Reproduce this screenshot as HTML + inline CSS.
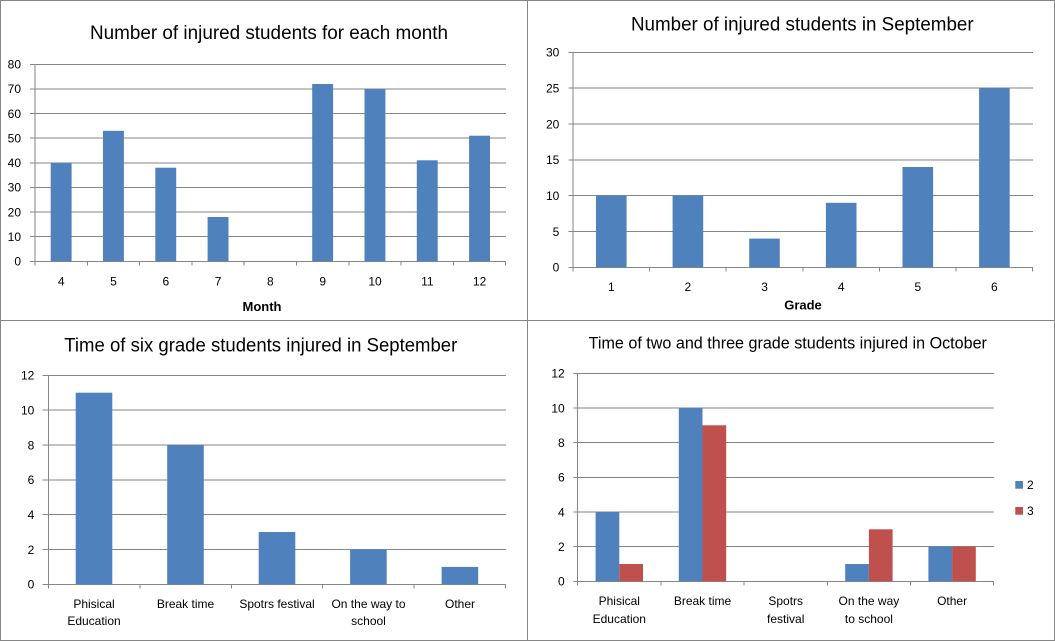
<!DOCTYPE html>
<html><head><meta charset="utf-8"><style>
html,body{margin:0;padding:0;background:#fff;}
svg{display:block;}
text{font-family:"Liberation Sans",Arial,sans-serif;fill:#000;}
</style></head><body>
<svg width="1055" height="641" viewBox="0 0 1055 641" xmlns="http://www.w3.org/2000/svg">
<rect x="0" y="0" width="1055" height="641" fill="#fff"/>
<g stroke="#868686" stroke-width="1" fill="none" shape-rendering="crispEdges">
<rect x="0.5" y="0.5" width="1053.8" height="639.8"/>
<line x1="527.5" y1="0" x2="527.5" y2="641"/>
<line x1="0" y1="320.5" x2="1055" y2="320.5"/>
</g>

<!-- Chart 1 -->
<text x="269" y="39" font-size="19" text-anchor="middle" textLength="358" lengthAdjust="spacingAndGlyphs">Number of injured students for each month</text>
<g stroke="#868686" stroke-width="1" shape-rendering="crispEdges">
<line x1="30" y1="261.3" x2="506" y2="261.3"/>
<line x1="30" y1="236.7" x2="506" y2="236.7"/>
<line x1="30" y1="212.1" x2="506" y2="212.1"/>
<line x1="30" y1="187.4" x2="506" y2="187.4"/>
<line x1="30" y1="162.8" x2="506" y2="162.8"/>
<line x1="30" y1="138.2" x2="506" y2="138.2"/>
<line x1="30" y1="113.6" x2="506" y2="113.6"/>
<line x1="30" y1="88.9" x2="506" y2="88.9"/>
<line x1="30" y1="64.3" x2="506" y2="64.3"/>
<line x1="35" y1="64.3" x2="35" y2="265.5"/>
<line x1="87.3" y1="261.3" x2="87.3" y2="265.5"/>
<line x1="139.6" y1="261.3" x2="139.6" y2="265.5"/>
<line x1="191.9" y1="261.3" x2="191.9" y2="265.5"/>
<line x1="244.2" y1="261.3" x2="244.2" y2="265.5"/>
<line x1="296.5" y1="261.3" x2="296.5" y2="265.5"/>
<line x1="348.8" y1="261.3" x2="348.8" y2="265.5"/>
<line x1="401.1" y1="261.3" x2="401.1" y2="265.5"/>
<line x1="453.4" y1="261.3" x2="453.4" y2="265.5"/>
<line x1="505.7" y1="261.3" x2="505.7" y2="265.5"/>
</g>
<g fill="#4F81BD">
<rect x="50.7" y="162.8" width="20.9" height="98.5"/>
<rect x="103" y="130.8" width="20.9" height="130.5"/>
<rect x="155.3" y="167.7" width="20.9" height="93.6"/>
<rect x="207.6" y="217" width="20.9" height="44.3"/>
<rect x="312.2" y="84" width="20.9" height="177.3"/>
<rect x="364.5" y="88.9" width="20.9" height="172.4"/>
<rect x="416.8" y="160.3" width="20.9" height="101"/>
<rect x="469.1" y="135.7" width="20.9" height="125.6"/>
</g>
<g font-size="12" text-anchor="end">
<text x="21" y="265.6">0</text>
<text x="21" y="241">10</text>
<text x="21" y="216.4">20</text>
<text x="21" y="191.7">30</text>
<text x="21" y="167.1">40</text>
<text x="21" y="142.5">50</text>
<text x="21" y="117.9">60</text>
<text x="21" y="93.2">70</text>
<text x="21" y="68.6">80</text>
</g>
<g font-size="12" text-anchor="middle">
<text x="61.2" y="285.5">4</text>
<text x="113.5" y="285.5">5</text>
<text x="165.8" y="285.5">6</text>
<text x="218.1" y="285.5">7</text>
<text x="270.4" y="285.5">8</text>
<text x="322.7" y="285.5">9</text>
<text x="375" y="285.5">10</text>
<text x="427.3" y="285.5">11</text>
<text x="479.6" y="285.5">12</text>
</g>
<text x="262" y="311" font-size="13" font-weight="bold" text-anchor="middle">Month</text>

<!-- Chart 2 -->
<text x="802.3" y="30.7" font-size="19" text-anchor="middle" textLength="342.7" lengthAdjust="spacingAndGlyphs">Number of injured students in September</text>
<g stroke="#868686" stroke-width="1" shape-rendering="crispEdges">
<line x1="568.7" y1="267.3" x2="1033" y2="267.3"/>
<line x1="568.7" y1="231.5" x2="1033" y2="231.5"/>
<line x1="568.7" y1="195.6" x2="1033" y2="195.6"/>
<line x1="568.7" y1="159.8" x2="1033" y2="159.8"/>
<line x1="568.7" y1="124" x2="1033" y2="124"/>
<line x1="568.7" y1="88.1" x2="1033" y2="88.1"/>
<line x1="568.7" y1="52.3" x2="1033" y2="52.3"/>
<line x1="573" y1="52.3" x2="573" y2="271.7"/>
<line x1="649.6" y1="267.3" x2="649.6" y2="271.7"/>
<line x1="726.2" y1="267.3" x2="726.2" y2="271.7"/>
<line x1="802.9" y1="267.3" x2="802.9" y2="271.7"/>
<line x1="879.5" y1="267.3" x2="879.5" y2="271.7"/>
<line x1="956.1" y1="267.3" x2="956.1" y2="271.7"/>
<line x1="1032.7" y1="267.3" x2="1032.7" y2="271.7"/>
</g>
<g fill="#4F81BD">
<rect x="596" y="195.6" width="30.6" height="71.7"/>
<rect x="672.6" y="195.6" width="30.6" height="71.7"/>
<rect x="749.2" y="238.6" width="30.6" height="28.7"/>
<rect x="825.9" y="202.8" width="30.6" height="64.5"/>
<rect x="902.5" y="167" width="30.6" height="100.3"/>
<rect x="979.1" y="88.1" width="30.6" height="179.2"/>
</g>
<g font-size="12" text-anchor="end">
<text x="559.3" y="271.6">0</text>
<text x="559.3" y="235.8">5</text>
<text x="559.3" y="199.9">10</text>
<text x="559.3" y="164.1">15</text>
<text x="559.3" y="128.3">20</text>
<text x="559.3" y="92.4">25</text>
<text x="559.3" y="56.6">30</text>
</g>
<g font-size="12" text-anchor="middle">
<text x="611.3" y="291">1</text>
<text x="687.9" y="291">2</text>
<text x="764.6" y="291">3</text>
<text x="841.2" y="291">4</text>
<text x="917.8" y="291">5</text>
<text x="994.4" y="291">6</text>
</g>
<text x="803" y="309.5" font-size="13" font-weight="bold" text-anchor="middle">Grade</text>

<!-- Chart 3 -->
<text x="260.8" y="351.3" font-size="19" text-anchor="middle" textLength="393" lengthAdjust="spacingAndGlyphs">Time of six grade students injured in September</text>
<g stroke="#868686" stroke-width="1" shape-rendering="crispEdges">
<line x1="42.7" y1="584.3" x2="506" y2="584.3"/>
<line x1="42.7" y1="549.5" x2="506" y2="549.5"/>
<line x1="42.7" y1="514.6" x2="506" y2="514.6"/>
<line x1="42.7" y1="479.8" x2="506" y2="479.8"/>
<line x1="42.7" y1="445" x2="506" y2="445"/>
<line x1="42.7" y1="410.1" x2="506" y2="410.1"/>
<line x1="42.7" y1="375.3" x2="506" y2="375.3"/>
<line x1="48.3" y1="375.3" x2="48.3" y2="588.7"/>
<line x1="139.8" y1="584.3" x2="139.8" y2="588.7"/>
<line x1="231.3" y1="584.3" x2="231.3" y2="588.7"/>
<line x1="322.7" y1="584.3" x2="322.7" y2="588.7"/>
<line x1="414.2" y1="584.3" x2="414.2" y2="588.7"/>
<line x1="505.7" y1="584.3" x2="505.7" y2="588.7"/>
</g>
<g fill="#4F81BD">
<rect x="75.7" y="392.7" width="36.6" height="191.6"/>
<rect x="167.2" y="445" width="36.6" height="139.3"/>
<rect x="258.7" y="532" width="36.6" height="52.3"/>
<rect x="350.1" y="549.5" width="36.6" height="34.8"/>
<rect x="441.6" y="566.9" width="36.6" height="17.4"/>
</g>
<g font-size="12" text-anchor="end">
<text x="34.3" y="588.6">0</text>
<text x="34.3" y="553.8">2</text>
<text x="34.3" y="518.9">4</text>
<text x="34.3" y="484.1">6</text>
<text x="34.3" y="449.3">8</text>
<text x="34.3" y="414.4">10</text>
<text x="34.3" y="379.6">12</text>
</g>
<g font-size="12" text-anchor="middle">
<text x="94" y="608">Phisical</text>
<text x="94" y="625">Education</text>
<text x="185.5" y="608">Break time</text>
<text x="277" y="608">Spotrs festival</text>
<text x="368.5" y="608">On the way to</text>
<text x="368.5" y="625">school</text>
<text x="460" y="608">Other</text>
</g>

<!-- Chart 4 -->
<text x="787.8" y="348.7" font-size="17" text-anchor="middle" textLength="398.3" lengthAdjust="spacingAndGlyphs">Time of two and three grade students injured in October</text>
<g stroke="#868686" stroke-width="1" shape-rendering="crispEdges">
<line x1="573.7" y1="581.3" x2="994" y2="581.3"/>
<line x1="573.7" y1="546.6" x2="994" y2="546.6"/>
<line x1="573.7" y1="512" x2="994" y2="512"/>
<line x1="573.7" y1="477.3" x2="994" y2="477.3"/>
<line x1="573.7" y1="442.6" x2="994" y2="442.6"/>
<line x1="573.7" y1="408" x2="994" y2="408"/>
<line x1="573.7" y1="373.3" x2="994" y2="373.3"/>
<line x1="577.7" y1="373.3" x2="577.7" y2="585.3"/>
<line x1="660.9" y1="581.3" x2="660.9" y2="585.3"/>
<line x1="744.1" y1="581.3" x2="744.1" y2="585.3"/>
<line x1="827.3" y1="581.3" x2="827.3" y2="585.3"/>
<line x1="910.5" y1="581.3" x2="910.5" y2="585.3"/>
<line x1="993.7" y1="581.3" x2="993.7" y2="585.3"/>
</g>
<g fill="#4F81BD">
<rect x="595.6" y="512" width="23.7" height="69.3"/>
<rect x="678.8" y="408" width="23.7" height="173.3"/>
<rect x="845.2" y="564" width="23.7" height="17.3"/>
<rect x="928.4" y="546.6" width="23.7" height="34.7"/>
</g>
<g fill="#C0504D">
<rect x="619.3" y="564" width="23.7" height="17.3"/>
<rect x="702.5" y="425.3" width="23.7" height="156"/>
<rect x="868.9" y="529.3" width="23.7" height="52"/>
<rect x="952.1" y="546.6" width="23.7" height="34.7"/>
</g>
<g font-size="12" text-anchor="end">
<text x="564.7" y="585.6">0</text>
<text x="564.7" y="550.9">2</text>
<text x="564.7" y="516.3">4</text>
<text x="564.7" y="481.6">6</text>
<text x="564.7" y="446.9">8</text>
<text x="564.7" y="412.3">10</text>
<text x="564.7" y="377.6">12</text>
</g>
<g font-size="12" text-anchor="middle">
<text x="619.3" y="605">Phisical</text>
<text x="619.3" y="623">Education</text>
<text x="702.5" y="605">Break time</text>
<text x="785.7" y="605">Spotrs</text>
<text x="785.7" y="623">festival</text>
<text x="868.9" y="605">On the way</text>
<text x="868.9" y="623">to school</text>
<text x="952.1" y="605">Other</text>
</g>
<rect x="1015.3" y="481" width="7.7" height="7.7" fill="#4F81BD"/>
<rect x="1015.3" y="507" width="7.7" height="7.7" fill="#C0504D"/>
<text x="1027" y="489" font-size="12">2</text>
<text x="1027" y="515" font-size="12">3</text>
</svg>
</body></html>
